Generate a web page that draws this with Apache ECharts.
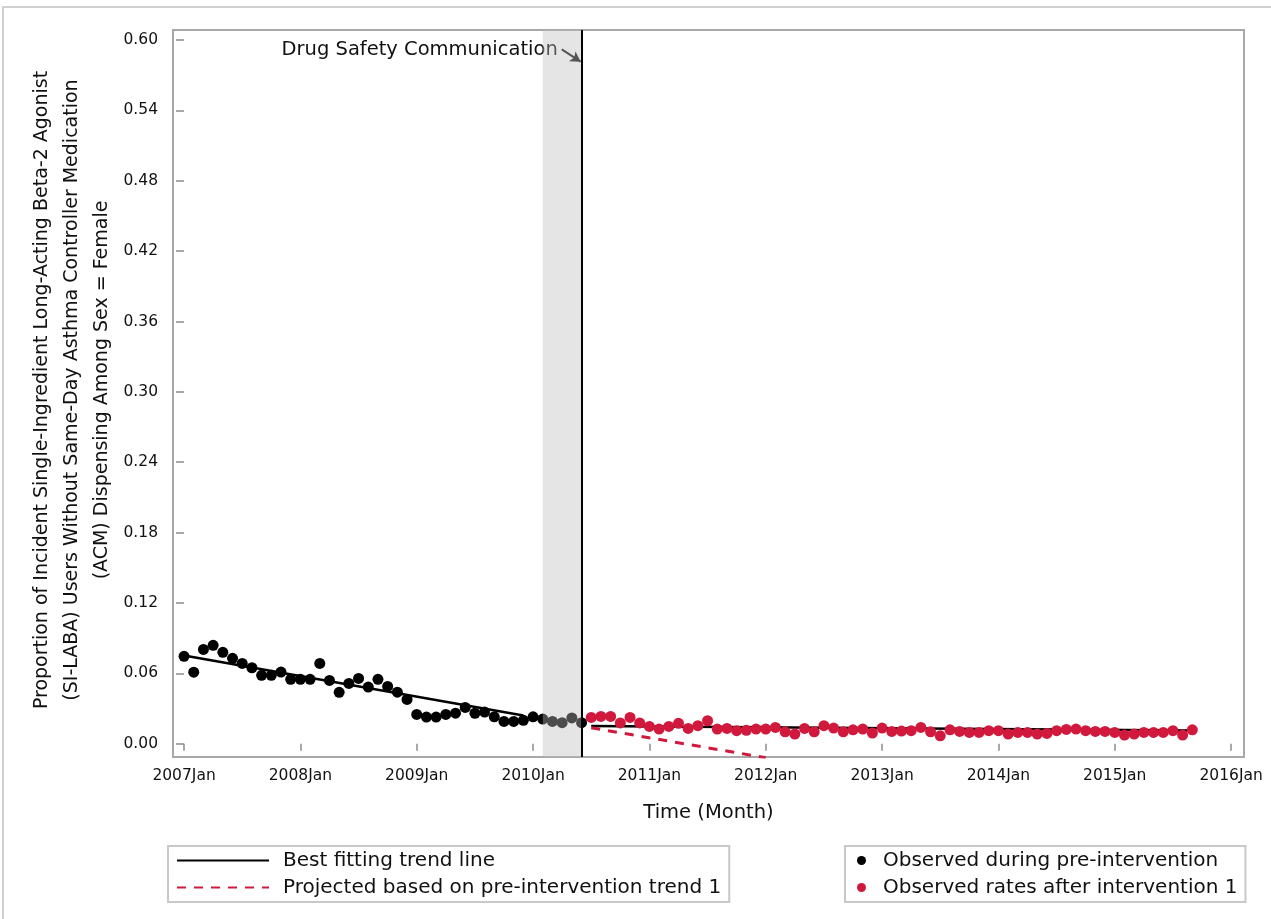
<!DOCTYPE html>
<html><head><meta charset="utf-8">
<script src="https://cdn.jsdelivr.net/npm/echarts@6/dist/echarts.min.js"></script>
<style>html,body{margin:0;padding:0;background:#fff}#c{width:1271px;height:919px}</style>
</head><body><div id="c"></div>
<script>
// x positions are months since 2007 Jan
const xTickMonths = [0, 12, 24, 36, 48, 60, 72, 84, 96, 108];
const xTickLabels = ['2007Jan','2008Jan','2009Jan','2010Jan','2011Jan','2012Jan','2013Jan','2014Jan','2015Jan','2016Jan'];
const yTicks = [0, 0.06, 0.12, 0.18, 0.24, 0.30, 0.36, 0.42, 0.48, 0.54, 0.60];

const preStartMonth = 0;
const preValues = [0.0745,0.061,0.0804,0.0839,0.0779,0.0728,0.0685,0.0648,0.0583,0.0583,0.0611,0.0549,
  0.0549,0.0549,0.0685,0.054,0.0438,0.0514,0.0557,0.0483,0.0549,0.0489,0.044,0.0378,
  0.025,0.0227,0.0227,0.025,0.0261,0.031,0.026,0.027,0.023,0.019,0.019,0.020,
  0.023,0.021,0.019,0.018,0.022,0.018];
const postStartMonth = 42;
const postValues = [0.0224,0.0233,0.0233,0.0177,0.0224,0.0177,0.0148,0.0125,0.0148,0.0174,0.0131,0.0154,
  0.0196,0.0125,0.0131,0.0111,0.0115,0.0125,0.0125,0.0139,0.0102,0.0083,0.0131,0.0102,
  0.0154,0.0134,0.0102,0.0119,0.0125,0.0091,0.0134,0.0105,0.0108,0.0111,0.0139,0.0102,
  0.0068,0.0119,0.0105,0.0096,0.0096,0.0111,0.0111,0.0083,0.0096,0.0096,0.0083,0.0088,
  0.0111,0.0122,0.0125,0.0111,0.0105,0.0105,0.0096,0.0074,0.0083,0.0096,0.0096,0.0096,
  0.0111,0.0074,0.0119];

const preTrendMonths = [0, 35];
const preTrendValues = [0.0753, 0.0241];
const postTrendMonths = [42, 104];
const postTrendValues = [0.0152, 0.0112];
const projMonths = [42, 60];
const projValues = [0.0136, -0.0119];

const bandStartMonth = 37;
const interventionMonth = 41;

const FONT = 'DejaVu Sans';
const RED = '#d0193c';
const TRANSPARENT = 'rgba(0,0,0,0)';

const pairs = (xs, ys) => ys.map((v, i) => [xs[i], v]);
const preData = preValues.map((v, i) => [preStartMonth + i, v]);
const postData = postValues.map((v, i) => [postStartMonth + i, v]);

const chart = echarts.init(document.getElementById('c'), null, {renderer: 'canvas'});
const option = {
  backgroundColor: '#fff',
  animation: false,
  textStyle: {fontFamily: FONT},
  grid: {left: 173, right: 27, top: 30, bottom: 162, show: true, borderColor: '#a8a8a8', borderWidth: 2, backgroundColor: 'transparent'},
  xAxis: {
    type: 'value', min: -1.14, max: 109.33,
    axisLine: {show: false},
    splitLine: {show: false},
    axisTick: {show: true, inside: false, length: 7, lineStyle: {color: '#8c8c8c', width: 1.5}, customValues: xTickMonths},
    axisLabel: {show: true, customValues: xTickMonths, margin: 11, fontFamily: FONT, fontSize: 15.5, color: '#111',
      formatter: v => xTickLabels[xTickMonths.indexOf(Math.round(v))] || ''},
    name: 'Time (Month)', nameLocation: 'middle', nameGap: 56,
    nameTextStyle: {fontFamily: FONT, fontSize: 19.5, color: '#111', verticalAlign: 'middle'}
  },
  yAxis: {
    type: 'value', min: -0.0113, max: 0.6085,
    axisLine: {show: false},
    splitLine: {show: false},
    axisTick: {show: true, inside: false, length: 8, lineStyle: {color: '#8c8c8c', width: 1.5}, customValues: yTicks},
    axisLabel: {show: true, customValues: yTicks, margin: 15, fontFamily: FONT, fontSize: 15.5, color: '#111',
      formatter: v => v.toFixed(2)}
  },
  legend: [
    {left: 168, top: 846, orient: 'vertical', itemWidth: 92, itemHeight: 14, itemGap: 6,
     padding: [4, 8, 4, 8], borderColor: '#c8c8c8', borderWidth: 2,
     itemStyle: {color: TRANSPARENT, borderWidth: 0, opacity: 0},
     textStyle: {fontFamily: FONT, fontSize: 20, color: '#111', lineHeight: 21, padding: [0, 0, 0, 9]},
     data: ['Best fitting trend line', 'Projected based on pre-intervention trend 1']},
    {left: 845, top: 846, orient: 'vertical', itemWidth: 9, itemHeight: 9, itemGap: 6,
     padding: [4, 8, 4, 12], borderColor: '#c8c8c8', borderWidth: 2,
     textStyle: {fontFamily: FONT, fontSize: 20, color: '#111', lineHeight: 21, padding: [0, 0, 0, 12]},
     data: ['Observed during pre-intervention', 'Observed rates after intervention 1']}
  ],
  series: [
    {name: 'Best fitting trend line', type: 'line', z: 2, symbol: 'none', silent: true,
     itemStyle: {color: TRANSPARENT},
     lineStyle: {color: '#000', width: 2.5}, data: pairs(preTrendMonths, preTrendValues)},
    {name: 'Best fitting trend line', type: 'line', z: 2, symbol: 'none', silent: true,
     itemStyle: {color: TRANSPARENT},
     lineStyle: {color: '#000', width: 2.5}, data: pairs(postTrendMonths, postTrendValues)},
    {name: 'Projected based on pre-intervention trend 1', type: 'line', z: 2, symbol: 'none', silent: true, clip: true,
     itemStyle: {color: TRANSPARENT},
     lineStyle: {color: RED, width: 3, type: [9, 8]}, data: pairs(projMonths, projValues)},
    {name: 'Observed during pre-intervention', type: 'scatter', z: 3, symbol: 'circle', symbolSize: 11,
     itemStyle: {color: '#000', opacity: 1}, data: preData},
    {name: 'Observed rates after intervention 1', type: 'scatter', z: 3, symbol: 'circle', symbolSize: 11,
     itemStyle: {color: RED, opacity: 1}, data: postData},
    {name: 'band', type: 'line', z: 6, data: [], silent: true,
     markArea: {silent: true, z: 6, itemStyle: {color: 'rgba(190,190,190,0.4)'},
       data: [[{xAxis: bandStartMonth}, {xAxis: interventionMonth}]]},
     markLine: {silent: true, z: 7, symbol: ['none', 'none'], label: {show: false},
       lineStyle: {color: '#000', width: 2, type: 'solid'},
       data: [{xAxis: interventionMonth}]}},
    {name: 'arrow', type: 'line', z: 7, data: [], silent: true,
     markLine: {silent: true, z: 7, symbol: ['none', 'arrow'], symbolSize: [9, 10], label: {show: false},
       lineStyle: {color: '#555', width: 2, type: 'solid'},
       data: [[{coord: [38.96, 0.592]}, {coord: [interventionMonth - 0.1, 0.5815]}]]}}
  ]
};
chart.setOption(option);

const p = chart.convertToPixel({gridIndex: 0}, [38.96, 0.592]);
chart.setOption({
  graphic: [
    {type: 'rect', silent: true, z: 0, shape: {x: 3, y: 7, width: 1400, height: 1000},
     style: {fill: 'none', stroke: '#d0d0d0', lineWidth: 2}},
    {type: 'text', silent: true, x: p[0] - 4, y: p[1] + 1,
     style: {text: 'Drug Safety Communication', font: '19.5px "' + FONT + '"', fill: '#111', align: 'right', verticalAlign: 'middle'}},
    {type: 'text', silent: true, x: 72, y: 390, rotation: Math.PI / 2,
     style: {text: 'Proportion of Incident Single-Ingredient Long-Acting Beta-2 Agonist\n(SI-LABA) Users Without Same-Day Asthma Controller Medication\n(ACM) Dispensing Among Sex = Female',
       font: '19px "' + FONT + '"', lineHeight: 30, fill: '#111', align: 'center', verticalAlign: 'middle'}}
  ]
});
</script>
</body></html>
